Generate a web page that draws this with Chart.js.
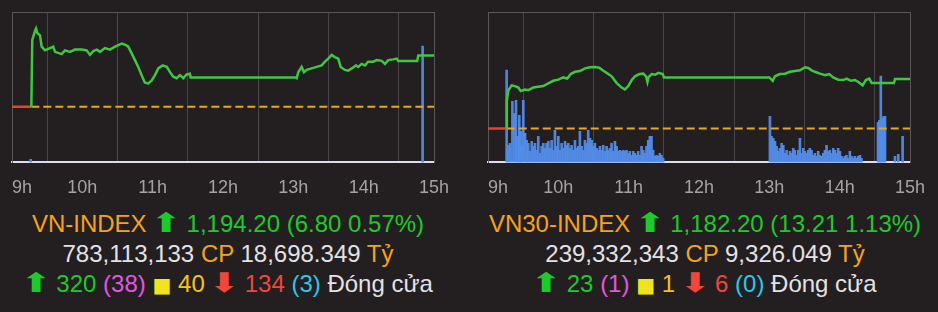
<!DOCTYPE html>
<html>
<head>
<meta charset="utf-8">
<script src="https://cdn.jsdelivr.net/npm/chart.js@4/dist/chart.umd.min.js"></script>
<style>
  html, body { margin: 0; padding: 0; background: #231f20; }
  body { width: 938px; height: 312px; position: relative; overflow: hidden; font-family: "Liberation Sans", Arial, sans-serif; }
  canvas { position: absolute; top: 0; }
  #vn-chart { left: 0; }
  #vn30-chart { left: 469px; }
  .info { position: absolute; top: 209px; text-align: center; font-size: 24px; line-height: 30px; white-space: nowrap; }
  #vn-info { left: 0; width: 456px; }
  #vn30-info { left: 469px; width: 472px; }
  .o { color: #f5a21e; }
  .g { color: #1ec92c; }
  .w { color: #e2e2e6; }
  .m { color: #e256e2; }
  .y { color: #f5c21a; }
  .r { color: #f0463c; }
  .c { color: #2ec6ea; }
  .arr { font-family: "DejaVu Sans", sans-serif; font-size: 27px; line-height: 20px; display: inline-block; transform: scaleX(1.4); margin: 0 2px; }
  .sq { color: #f2e41c; font-family: "DejaVu Sans", sans-serif; font-size: 20px; }
</style>
</head>
<body>
<canvas id="vn-chart" width="469" height="200"></canvas>
<canvas id="vn30-chart" width="469" height="200"></canvas>

<div class="info" id="vn-info">
  <div><span class="o">VN-INDEX</span> <span class="g"><span class="arr">⬆</span> 1,194.20 (6.80 0.57%)</span></div>
  <div><span class="w">783,113,133</span> <span class="o">CP</span> <span class="w">18,698.349</span> <span class="o">Tỷ</span></div>
  <div><span class="g"><span class="arr">⬆</span> 320</span> <span class="m">(38)</span> <span class="sq">■</span> <span class="y">40</span> <span class="r"><span class="arr">⬇</span> 134</span> <span class="c">(3)</span> <span class="w">Đóng cửa</span></div>
</div>
<div class="info" id="vn30-info">
  <div><span class="o">VN30-INDEX</span> <span class="g"><span class="arr">⬆</span> 1,182.20 (13.21 1.13%)</span></div>
  <div><span class="w">239,332,343</span> <span class="o">CP</span> <span class="w">9,326.049</span> <span class="o">Tỷ</span></div>
  <div><span class="g"><span class="arr">⬆</span> 23</span> <span class="m">(1)</span> <span class="sq">■</span> <span class="y">1</span> <span class="r"><span class="arr">⬇</span> 6</span> <span class="c">(0)</span> <span class="w">Đóng cửa</span></div>
</div>

<script>
// time = minutes after 9:00
const hourLabels = ['9h', '10h', '11h', '12h', '13h', '14h', '15h'];

const vnPrevClose = 1187.40;
const vnTime = [16.5, 17.3, 19.4, 20.5, 21.6, 23.9, 25.3, 28.2, 32.4, 35.2, 36.7, 42.4, 45.2, 49.5, 53.7, 59.5, 63.7, 66.5, 69.4, 72.3,
  75.1, 79.3, 83.6, 87.9, 90.7, 93.6, 97.2, 99.2, 102.1, 104.9, 107.7, 110.6, 113.4, 116.3, 119.2, 122, 124.8, 128.5, 132, 134.8,
  137.6, 140.5, 143.3, 146.1, 149, 151.8, 152.4, 241.4, 242.9, 244.2, 247.1, 249.1, 251.4, 255.6, 259.9, 264.2, 267, 269.8, 272.7, 275.5,
  278.3, 280.4, 284, 286.9, 289.8, 293.4, 295.4, 298.3, 301.1, 303.9, 308.2, 311.1, 315.4, 318.2, 321, 325.3, 328.2, 329.5, 345.7, 346.6, 360];
const vnValue = [1187.4, 1196.3, 1197.4, 1197.8, 1197.2, 1196.9, 1195.4, 1194.9, 1195.2, 1195.4, 1194.7, 1194.4, 1194.9, 1194.7, 1195.0, 1195.0, 1194.9, 1194.3, 1194.8, 1195.0,
  1194.7, 1195.2, 1195.0, 1195.4, 1195.6, 1195.8, 1195.6, 1195.4, 1194.5, 1193.6, 1192.7, 1191.6, 1190.6, 1190.5, 1190.9, 1191.6, 1192.5, 1192.9, 1192.7, 1192.0,
  1191.4, 1191.2, 1191.6, 1191.2, 1191.7, 1191.8, 1191.3, 1191.3, 1191.2, 1192.0, 1192.7, 1192.0, 1192.3, 1192.5, 1192.7, 1192.9, 1193.4, 1193.8, 1194.3, 1194.0,
  1193.8, 1192.7, 1192.3, 1192.2, 1192.5, 1192.9, 1192.7, 1193.1, 1192.9, 1193.4, 1193.4, 1193.6, 1193.5, 1193.1, 1193.6, 1193.7, 1193.8, 1193.5, 1193.5, 1194.2, 1194.2];
const vnVolTime = [16, 350.3];
const vnVolume = [30, 1160];

const vn30PrevClose = 1168.99;
const vn30Time = [16, 16.1, 17.4, 20.2, 23, 25.9, 27.9, 31.6, 34.4, 38.7, 42.9, 47.2, 51.4, 55.7, 60, 64.2, 67.6, 70.6, 74.2, 78.5,
  82.7, 87, 91.3, 94.9, 97.8, 101.2, 105.5, 109.8, 114, 116.9, 119.7, 122.6, 125.4, 129.1, 132.5, 134.8, 136, 136.8, 139.7, 142.5,
  145.3, 149, 150.1, 240, 242.9, 244.8, 249.1, 253.3, 257.6, 261.9, 266.1, 270.4, 273.2, 276.1, 278.9, 283.2, 287.5, 291.1, 294.5, 298.8,
  303.1, 306, 309.4, 313.1, 315.9, 319.6, 322.4, 325.3, 327.3, 346.3, 347.2, 360];
const vn30Value = [1169.0, 1176.5, 1179.2, 1180.5, 1180.3, 1179.9, 1179.0, 1179.4, 1179.2, 1179.9, 1180.1, 1180.3, 1181.0, 1181.7, 1182.0, 1182.6, 1182.3, 1183.5, 1184.1, 1184.3,
  1185.0, 1185.3, 1185.4, 1185.2, 1184.5, 1183.8, 1182.9, 1181.1, 1179.9, 1179.4, 1180.3, 1181.9, 1182.9, 1183.5, 1183.6, 1182.9, 1181.4, 1182.6, 1183.5, 1183.3,
  1183.8, 1183.5, 1182.6, 1182.6, 1181.7, 1182.9, 1183.5, 1183.6, 1184.1, 1184.3, 1184.5, 1185.3, 1185.1, 1184.5, 1184.1, 1183.6, 1183.2, 1183.5, 1182.6, 1182.0,
  1181.9, 1182.3, 1181.7, 1181.9, 1181.4, 1180.5, 1181.9, 1182.3, 1181.1, 1181.1, 1182.2, 1182.2];

const vn30VolTime = [15.9, 17.3, 18.8, 20.8, 22.5, 23.9, 25.3, 26.7, 27.9, 28.7, 30.1, 31.6, 33.0, 34.4, 35.8, 37.3, 38.7, 40.1, 41.5, 42.9,
  44.4, 45.8, 47.2, 48.6, 50.0, 51.5, 52.9, 54.3, 55.7, 57.1, 58.6, 60.0, 61.4, 62.8, 64.2, 65.7, 67.1, 68.5, 69.9, 71.3,
  72.8, 74.2, 75.6, 77.0, 78.4, 79.9, 81.3, 82.7, 84.1, 85.5, 87.0, 88.4, 89.8, 91.2, 92.6, 94.1, 95.5, 96.9, 98.3, 99.7,
  101.2, 102.6, 104.0, 105.4, 106.8, 108.3, 109.7, 111.1, 112.5, 113.9, 115.4, 116.8, 118.2, 119.6, 121.0, 122.5, 123.9, 125.3, 126.7, 128.1,
  129.6, 131.0, 132.4, 133.8, 135.2, 136.7, 138.1, 139.5, 140.9, 142.3, 143.8, 145.2, 146.6, 148.0, 149.4,
  240.5, 241.9, 243.4, 244.8, 246.2, 247.6, 249.0, 250.5, 251.9, 253.3, 254.7, 256.1, 257.6, 259.0, 260.4, 261.8, 263.2, 264.7, 266.1, 267.5,
  268.9, 270.3, 271.8, 273.2, 274.6, 276.0, 277.4, 278.9, 280.3, 281.7, 283.1, 284.5, 286.0, 287.4, 288.8, 290.2, 291.6, 293.1, 294.5, 295.9,
  297.3, 298.7, 300.2, 301.6, 303.0, 304.4, 305.8, 307.3, 308.7, 310.1, 311.5, 312.9, 314.4, 315.8, 317.2, 318.6,
  332.7, 333.9, 335.1, 336.3, 337.5, 338.7, 347.2, 350.0, 353.7];
const vn30Volume = [920, 170, 190, 610, 490, 620, 260, 470, 310, 160, 620, 290, 220, 190, 110, 210, 160, 190, 120, 260,
  90, 160, 190, 140, 190, 210, 140, 220, 120, 320, 160, 260, 120, 190, 140, 210, 170, 190, 140, 170,
  120, 220, 140, 160, 310, 160, 120, 220, 190, 320, 240, 220, 160, 190, 140, 120, 160, 120, 170, 110,
  160, 120, 140, 190, 110, 210, 160, 110, 120, 110, 120, 110, 120, 90, 110, 70, 110, 90, 70, 110,
  70, 160, 120, 90, 160, 220, 260, 260, 120, 60, 70, 60, 90, 70, 40,
  460, 260, 240, 210, 160, 110, 140, 190, 170, 90, 120, 70, 110, 90, 140, 120, 70, 120, 240, 90,
  140, 110, 90, 120, 140, 120, 70, 90, 60, 110, 70, 60, 90, 120, 170, 110, 120, 90, 140, 120,
  90, 140, 110, 60, 40, 60, 70, 40, 110, 60, 40, 60, 40, 60, 70, 40,
  400, 420, 860, 440, 460, 460, 60, 80, 260];

const toPoints = (xs, ys) => xs.map((x, i) => ({ x: x, y: ys[i] }));

const frameColor = '#59575a';

// first hour label sits right of its grid line, like the original
const alignFirstLabel = {
  id: 'alignFirstLabel',
  beforeDraw(chart) {
    const items = chart.scales.x.getLabelItems();
    if (items.length) items[0].options.textAlign = 'left';
  }
};

const createChart = (idElement, s) => new Chart(document.getElementById(idElement), {
  type: 'line',
  data: {
    datasets: [
      {
        data: toPoints(s.time, s.value),
        borderColor: '#40c640',
        borderWidth: 2.5,
        pointRadius: 0,
        tension: 0,
        order: 1
      },
      {
        // pre-open segment
        data: toPoints([0, s.time[0]], [s.prev, s.prev]),
        borderColor: '#e8432e',
        borderWidth: 2.5,
        pointRadius: 0,
        order: 1
      },
      {
        // reference (previous close)
        data: toPoints([s.time[0], 360], [s.prev, s.prev]),
        borderColor: '#e6a823',
        borderWidth: 2,
        borderDash: [8, 4],
        pointRadius: 0,
        order: 2
      },
      {
        type: 'bar',
        data: toPoints(s.volTime, s.volume),
        backgroundColor: 'rgba(84, 142, 234, 0.92)',
        barThickness: 2,
        yAxisID: 'yv',
        order: 3
      }
    ]
  },
  options: {
    responsive: false,
    animation: false,
    events: [],
    layout: { padding: { left: s.padLeft, right: s.padRight, top: 12, bottom: 1 } },
    plugins: { legend: { display: false }, tooltip: { enabled: false } },
    scales: {
      x: {
        type: 'linear',
        position: 'bottom',
        min: 0,
        max: 360,
        offset: false,
        ticks: {
          stepSize: 60,
          autoSkip: false,
          maxRotation: 0,
          padding: 0,
          color: '#a3a3a6',
          font: { size: 18, family: '"Liberation Sans", Arial, sans-serif' },
          callback: (v, i) => hourLabels[i]
        },
        grid: { color: '#47454a', lineWidth: 1, drawTicks: true, tickLength: 15, tickColor: 'rgba(0,0,0,0)' },
        border: { color: '#dcdcf0', width: 2 }
      },
      xTop: {
        type: 'linear',
        position: 'top',
        min: 0,
        max: 360,
        ticks: { display: false },
        grid: { display: false, drawTicks: false },
        border: { color: frameColor, width: 1 }
      },
      y: {
        position: 'left',
        min: s.min,
        max: s.max,
        ticks: { display: false },
        grid: { display: false, drawTicks: false },
        border: { color: frameColor, width: 1 }
      },
      yv: {
        position: 'right',
        min: 0,
        max: 1500,
        ticks: { display: false },
        grid: { display: false, drawTicks: false },
        border: { color: frameColor, width: 1 }
      }
    }
  },
  plugins: [alignFirstLabel]
});

createChart('vn-chart', {
  time: vnTime, value: vnValue, prev: vnPrevClose, volTime: vnVolTime, volume: vnVolume,
  min: 1180, max: 1200, padLeft: 12, padRight: 35
});

createChart('vn30-chart', {
  time: vn30Time, value: vn30Value, prev: vn30PrevClose, volTime: vn30VolTime, volume: vn30Volume,
  min: 1160, max: 1200, padLeft: 19, padRight: 28
});
</script>
</body>
</html>
